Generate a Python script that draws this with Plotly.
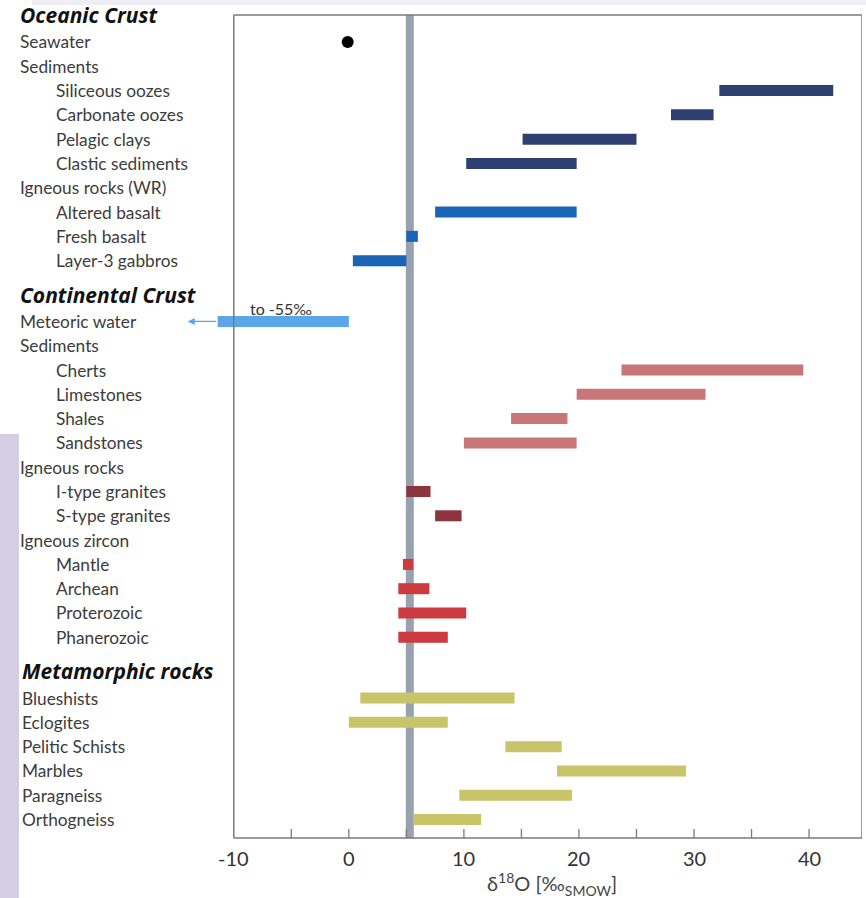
import plotly.graph_objects as go

# ---- data: δ18O ranges (‰ SMOW) ----
oceanic_labels = ["Seawater", "Sediments", "Siliceous oozes", "Carbonate oozes",
                  "Pelagic clays", "Clastic sediments", "Igneous rocks (WR)",
                  "Altered basalt", "Fresh basalt", "Layer-3 gabbros"]
oceanic_indent = [0, 0, 1, 1, 1, 1, 0, 1, 1, 1]
oceanic_lo = [None, None, 32.2, 28.0, 15.1, 10.2, None, 7.5, 5.0, 0.35]
oceanic_hi = [None, None, 42.1, 31.7, 25.0, 19.8, None, 19.8, 6.0, 5.0]
oceanic_color = [None, None, "#2f3f70", "#2f3f70", "#2f3f70", "#2f3f70", None,
                 "#1a64b8", "#1a64b8", "#1a64b8"]
seawater_value = -0.1

continental_labels = ["Meteoric water", "Sediments", "Cherts", "Limestones", "Shales",
                      "Sandstones", "Igneous rocks", "I-type granites", "S-type granites",
                      "Igneous zircon", "Mantle", "Archean", "Proterozoic", "Phanerozoic"]
continental_indent = [0, 0, 1, 1, 1, 1, 0, 1, 1, 0, 1, 1, 1, 1]
continental_lo = [-11.4, None, 23.7, 19.8, 14.1, 10.0, None, 5.0, 7.5, None, 4.7, 4.3, 4.3, 4.3]
continental_hi = [0.0, None, 39.5, 31.0, 19.0, 19.8, None, 7.1, 9.8, None, 5.6, 7.0, 10.2, 8.6]
continental_color = ["#5aa6e8", None, "#c97679", "#c97679", "#c97679", "#c97679", None,
                     "#8b363c", "#8b363c", None, "#cc3a40", "#cc3a40", "#cc3a40", "#cc3a40"]
meteoric_extreme_text = "to -55‰"

metamorphic_labels = ["Blueshists", "Eclogites", "Pelitic Schists", "Marbles",
                      "Paragneiss", "Orthogneiss"]
metamorphic_lo = [1.0, 0.0, 13.6, 18.1, 9.6, 5.6]
metamorphic_hi = [14.4, 8.6, 18.5, 29.3, 19.4, 11.5]
metamorphic_color = "#c8c46a"

mantle_value = 5.3
x_ticks = [-10, -5, 0, 5, 10, 15, 20, 25, 30, 35, 40]
x_min, x_max = -14.5, 44.6
axis_start = -10

# ---- row layout ----
HEADER_BEFORE = 1.4
HEADER_AFTER = 1.1
groups = [
    ("Oceanic Crust", oceanic_labels, oceanic_indent, oceanic_lo, oceanic_hi, oceanic_color, 20),
    ("Continental Crust", continental_labels, continental_indent, continental_lo,
     continental_hi, continental_color, 20),
    ("Metamorphic rocks", metamorphic_labels, [0] * len(metamorphic_labels), metamorphic_lo,
     metamorphic_hi, [metamorphic_color] * len(metamorphic_labels), 22),
]
L_MARGIN = 182
PAD = 2  # annotation inner padding

fig = go.Figure()
annotations = []
rows = {}
pos = -HEADER_AFTER
first = True
for header, labels, indents, lo, hi, colors, lx in groups:
    if not first:
        pos += HEADER_BEFORE
    annotations.append(dict(text="<b><i>" + header + "</i></b>", xref="paper", x=0,
                            xshift=lx - L_MARGIN - PAD, yref="y", y=pos,
                            xanchor="left", yanchor="middle", showarrow=False,
                            font=dict(family="Open Sans", size=21, color="#111111")))
    pos += HEADER_AFTER
    for i, lab in enumerate(labels):
        y = pos
        rows[lab + header] = y
        xpx = (56 if indents[i] else lx)
        annotations.append(dict(text=lab, xref="paper", x=0, xshift=xpx - L_MARGIN - PAD,
                                yref="y", y=y, xanchor="left", yanchor="middle", showarrow=False,
                                font=dict(family="Lato", size=17.3, color="#3c3c3c")))
        if lo[i] is not None:
            fig.add_trace(go.Scatter(x=[lo[i], hi[i]], y=[y, y], mode="lines",
                                     line=dict(color=colors[i], width=11),
                                     hoverinfo="skip", showlegend=False))
        if i < len(labels) - 1:
            pos += 1
    first = False

y_top, y_bottom = -1.11, pos + 0.76

# seawater point
fig.add_trace(go.Scatter(x=[seawater_value], y=[rows["SeawaterOceanic Crust"]], mode="markers",
                         marker=dict(color="black", size=12), showlegend=False, hoverinfo="skip"))

# meteoric water: arrow towards very negative values
met_y = rows["Meteoric waterContinental Crust"]
annotations.append(dict(x=-14.0, y=met_y, xref="x", yref="y", ax=continental_lo[0], ay=met_y,
                        axref="x", ayref="y", showarrow=True, arrowhead=2, arrowsize=1,
                        arrowwidth=1.4, arrowcolor="#5aa6e8", text=""))
annotations.append(dict(text=meteoric_extreme_text, x=-8.8, y=met_y - 0.55, xref="x", yref="y",
                        xanchor="left", yanchor="middle", showarrow=False,
                        font=dict(family="Lato", size=16, color="#333333")))

# x tick labels every 10
for t in x_ticks:
    if t % 10 == 0:
        annotations.append(dict(text=str(t), x=t, xref="x", y=0, yref="paper", yanchor="top",
                                yshift=-6, showarrow=False,
                                font=dict(family="Lato", size=20, color="#333333")))

# axis title
annotations.append(dict(text="δ<sup>18</sup>O [‰<sub>SMOW</sub>]", x=(axis_start + x_max) / 2 + 0.4,
                        xref="x", y=0, yref="paper", yanchor="middle", yshift=-46, showarrow=False,
                        font=dict(family="Lato", size=20, color="#444444")))

frame = "#7a7a7a"
shapes = [
    # backdrop bands of the slide
    dict(type="rect", xref="paper", yref="paper", x0=(32 - L_MARGIN) / 680, x1=(866 - L_MARGIN) / 680,
         y0=1 + 10 / 823, y1=1 + 15 / 823, fillcolor="#efeef4", line_width=0, layer="below"),
    dict(type="rect", xref="paper", yref="paper", x0=-L_MARGIN / 680, x1=(19 - L_MARGIN) / 680,
         y0=-60 / 823, y1=(838 - 434) / 823, fillcolor="#d5cde2", line_width=0, layer="below"),
    # mantle reference line
    dict(type="line", xref="x", yref="paper", x0=mantle_value, x1=mantle_value, y0=0, y1=1,
         line=dict(color="#98a2ae", width=8), layer="below"),
    # frame
    dict(type="line", xref="x", yref="paper", x0=axis_start, x1=axis_start, y0=0, y1=1,
         line=dict(color=frame, width=1.5)),
    dict(type="line", xref="x", yref="paper", x0=axis_start, x1=x_max, y0=1, y1=1,
         line=dict(color=frame, width=1.5)),
    dict(type="line", xref="x", yref="paper", x0=x_max, x1=x_max, y0=0, y1=1,
         line=dict(color=frame, width=1.5)),
    dict(type="line", xref="x", yref="paper", x0=axis_start, x1=x_max, y0=0, y1=0,
         line=dict(color=frame, width=1.5)),
]
# inside ticks every 5
for t in x_ticks:
    if t > axis_start:
        shapes.append(dict(type="line", xref="x", yref="paper", x0=t, x1=t, y0=0, y1=9 / 823,
                           line=dict(color=frame, width=1.3)))

fig.update_layout(
    width=866, height=898,
    margin=dict(l=L_MARGIN, r=4, t=15, b=60),
    paper_bgcolor="white", plot_bgcolor="white",
    xaxis=dict(range=[x_min, x_max], showgrid=False, zeroline=False, showline=False,
               showticklabels=False, ticks=""),
    yaxis=dict(range=[y_bottom, y_top], showgrid=False, zeroline=False, showline=False,
               showticklabels=False, ticks=""),
    annotations=annotations,
    shapes=shapes,
    showlegend=False,
)

fig.write_html("out.html")
